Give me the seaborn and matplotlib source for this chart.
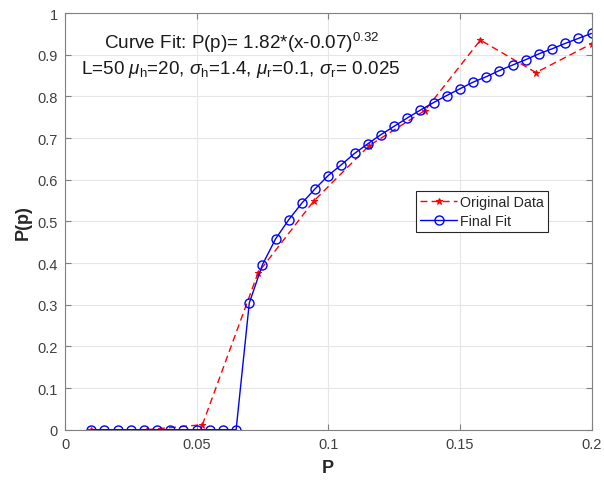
import matplotlib
matplotlib.use("Agg")
import matplotlib.pyplot as plt
import seaborn as sns
import numpy as np

# Data
orig_x = [0.01, 0.0311, 0.0522, 0.0733, 0.0944, 0.1156, 0.1367, 0.1578, 0.1789, 0.2]
orig_y = [0.0, 0.0, 0.012, 0.376, 0.548, 0.682, 0.766, 0.935, 0.857, 0.926]

fit_x = [0.01, 0.015, 0.02, 0.025, 0.03, 0.035, 0.04, 0.045, 0.05, 0.055, 0.06, 0.065,
         0.07, 0.075, 0.08, 0.085, 0.09, 0.095, 0.10, 0.105, 0.11, 0.115, 0.12, 0.125,
         0.13, 0.135, 0.14, 0.145, 0.15, 0.155, 0.16, 0.165, 0.17, 0.175, 0.18, 0.185,
         0.19, 0.195, 0.2]
fit_y = [0, 0, 0, 0, 0, 0, 0, 0, 0, 0, 0, 0,
         0.304, 0.396, 0.458, 0.504, 0.544, 0.578, 0.610, 0.636, 0.663, 0.686, 0.708, 0.728,
         0.748, 0.767, 0.785, 0.802, 0.818, 0.834, 0.847, 0.862, 0.875, 0.888, 0.902, 0.914,
         0.927, 0.939, 0.951]

x_ticks = [0, 0.05, 0.1, 0.15, 0.2]
x_tick_labels = ["0", "0.05", "0.1", "0.15", "0.2"]
y_ticks = [0, 0.1, 0.2, 0.3, 0.4, 0.5, 0.6, 0.7, 0.8, 0.9, 1.0]
y_tick_labels = ["0", "0.1", "0.2", "0.3", "0.4", "0.5", "0.6", "0.7", "0.8", "0.9", "1"]

sns.set_theme(style="white")
plt.rcParams['font.family'] = ['Liberation Sans', 'DejaVu Sans']
plt.rcParams['mathtext.fontset'] = 'custom'
plt.rcParams['mathtext.rm'] = 'Liberation Sans'
plt.rcParams['mathtext.it'] = 'Liberation Sans:italic'
plt.rcParams['mathtext.bf'] = 'Liberation Sans:bold'

fig = plt.figure(figsize=(6.04, 4.85), dpi=100)
ax = fig.add_axes([65/604, (485-430.7)/485, 526.5/604, 416.7/485])

sns.lineplot(x=orig_x, y=orig_y, ax=ax, color='#ff0000', linestyle=(0, (5, 3)),
             linewidth=1.0, marker='*', markersize=5, markeredgecolor='#ff0000',
             markerfacecolor='#ff0000', label='Original Data', sort=False)
sns.lineplot(x=fit_x, y=fit_y, ax=ax, color='#0000ff', linestyle='-', linewidth=1.0,
             marker='o', markersize=6.5, markerfacecolor='none', markeredgecolor='#0000ff',
             markeredgewidth=1.0, label='Final Fit', sort=False)

ax.set_xlim(0, 0.2)
ax.set_ylim(0, 1)
ax.set_xticks(x_ticks)
ax.set_xticklabels(x_tick_labels)
ax.set_yticks(y_ticks)
ax.set_yticklabels(y_tick_labels)
ax.grid(True, color='#e6e6e6', linewidth=0.8)
ax.set_axisbelow(True)
for s in ax.spines.values():
    s.set_color('#808080')
    s.set_linewidth(0.8)
ax.tick_params(direction='in', length=4, width=0.8, colors='#808080',
               labelcolor='#404040', labelsize=10.5, top=True, right=True,
               bottom=True, left=True, pad=5, labeltop=False, labelright=False)

ax.set_xlabel('P', fontsize=13, fontweight='bold', color='#262626', labelpad=6)
ax.set_ylabel('P(p)', fontsize=13, fontweight='bold', color='#262626', labelpad=4)

ax.text(0.335, 0.930, r'Curve Fit: P(p)= 1.82*(x-0.07)$^{0.32}$', transform=ax.transAxes,
        ha='center', va='center', fontsize=13.6, color='#1a1a1a')
ax.text(0.333, 0.866,
        r'L=50 $\mu_{\rm h}$=20, $\sigma_{\rm h}$=1.4, $\mu_{\rm r}$=0.1, $\sigma_{\rm r}$= 0.025',
        transform=ax.transAxes, ha='center', va='center', fontsize=13.6, color='#1a1a1a')

leg = ax.legend(loc='upper right', bbox_to_anchor=(0.917, 0.573), fontsize=10.3,
                frameon=True, fancybox=False, edgecolor='#262626', framealpha=1,
                borderpad=0.3, handlelength=2.6, handletextpad=0.15, labelspacing=0.3,
                borderaxespad=0)
leg.get_frame().set_linewidth(0.8)

fig.savefig('out.png', dpi=100)
